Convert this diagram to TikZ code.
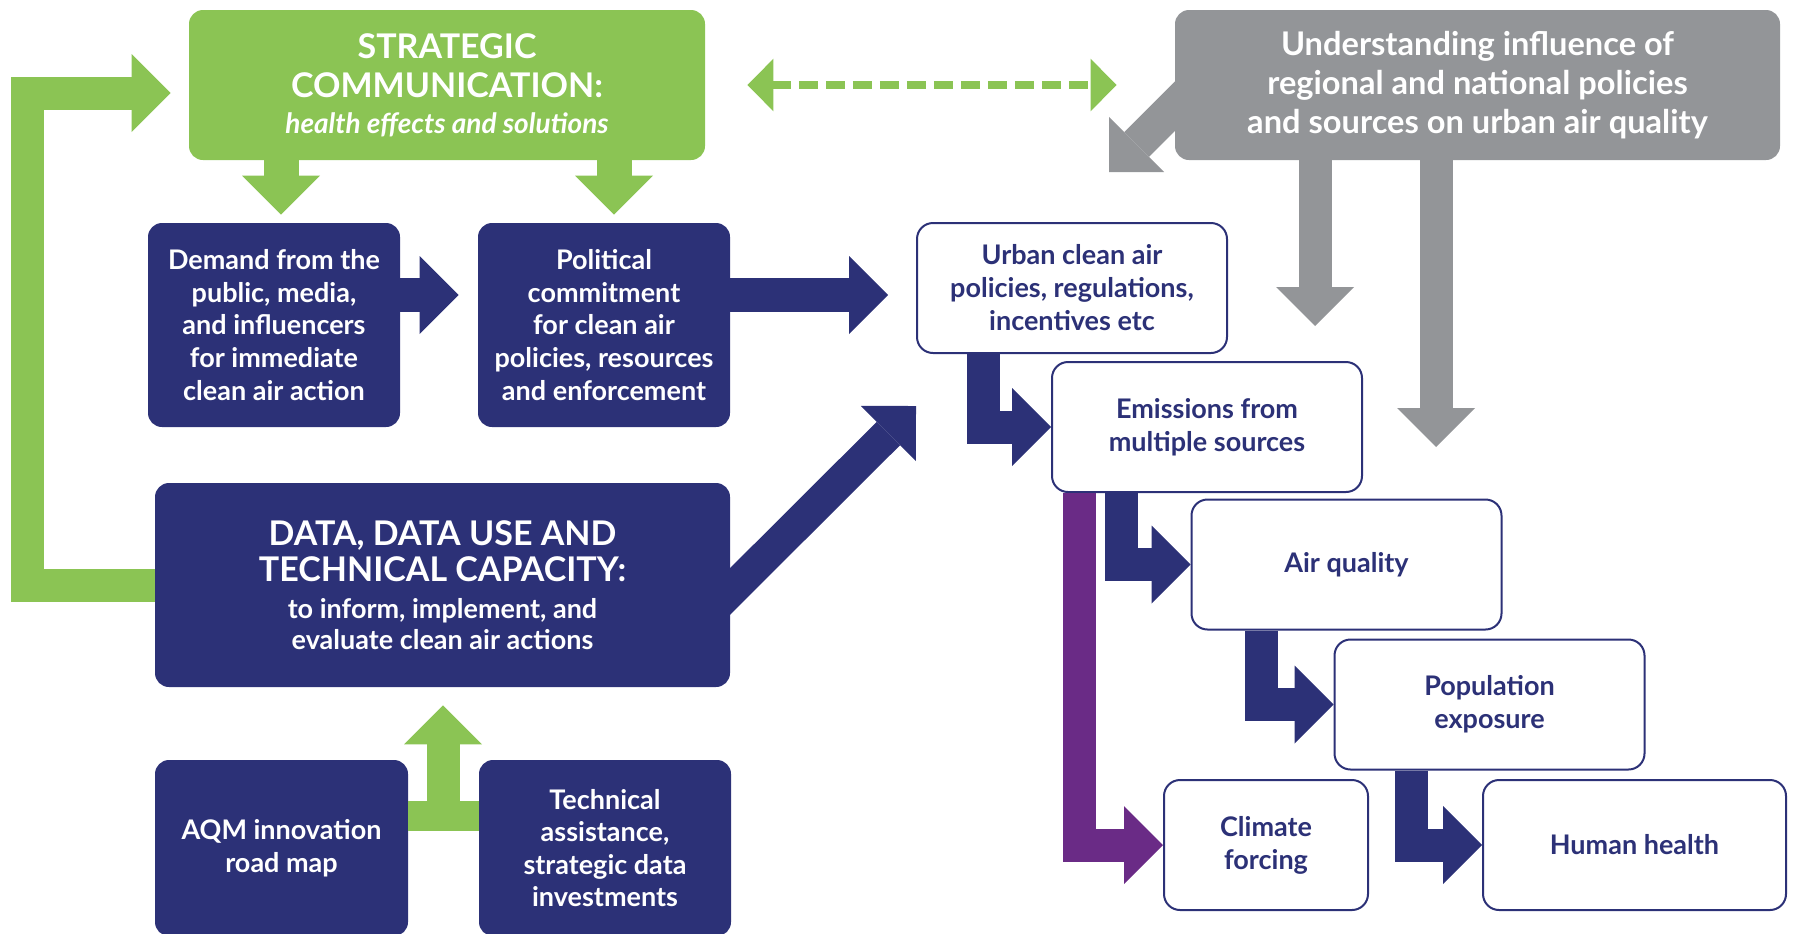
\documentclass[tikz,border=0pt]{standalone}
\usepackage{fontspec}
\setmainfont{Lato}
\usetikzlibrary{arrows.meta, calc, positioning}
\definecolor{Leaf}{RGB}{139,196,84}
\definecolor{Navy}{RGB}{44,49,119}
\definecolor{Slate}{RGB}{147,149,152}
\definecolor{Plum}{RGB}{106,43,134}

\begin{document}
\begin{tikzpicture}[x=0.5pt, y=-0.5pt,
    every node/.style={align=center, inner sep=0pt},
    darkbox/.style={rounded corners=7pt, fill=Navy, text=white,
      font=\bfseries\fontsize{13.5}{16.3}\selectfont},
    whitebox/.style={rounded corners=8pt, draw=Navy, line width=1pt, fill=white,
      text=Navy, font=\bfseries\fontsize{13.5}{16.5}\selectfont,
      minimum width=155pt, minimum height=65pt},
    fatarrow/.style={line width=16.5pt,
      -{Triangle[length=19.5pt, width=39pt, line width=0pt]}}
  ]
  \useasboundingbox (0,0) rectangle (1793,933);

  \node[rounded corners=7pt, fill=Leaf, text=white, minimum width=258pt, minimum height=75pt,
    font=\bfseries\fontsize{17}{19.5}\selectfont] (strat) at (447,85)
    {STRATEGIC\\COMMUNICATION:\\[-1.5pt]\fontsize{14}{17}\selectfont\itshape health effects and solutions};
  \node[rounded corners=7pt, fill=Slate, text=white, minimum width=302.5pt, minimum height=75pt,
    font=\bfseries\fontsize{16.3}{19.5}\selectfont] (infl) at (1477.5,85)
    {Understanding influence of\\regional and national policies\\and sources on urban air quality};

  \node[darkbox, minimum width=126pt, minimum height=102pt] (demand) at (274,325)
    {Demand from the\\public, media,\\and influencers\\for immediate\\clean air action};
  \node[darkbox, minimum width=126pt, minimum height=102pt] (politic) at (604,325)
    {Political\\commitment\\for clean air\\policies, resources\\and enforcement};
  \node[darkbox, minimum width=287.5pt, minimum height=102pt,
    font=\bfseries\fontsize{17}{18.3}\selectfont] (data) at (442.5,585)
    {DATA, DATA USE AND\\TECHNICAL CAPACITY:\\[0.2pt]\fontsize{13.5}{15.5}\selectfont to inform, implement, and\\[-2.8pt]\fontsize{13.5}{15.5}\selectfont evaluate clean air actions};
  \node[darkbox, minimum width=126.5pt, minimum height=88pt] (aqm) at (281.5,848)
    {AQM innovation\\road map};
  \node[darkbox, minimum width=126pt, minimum height=88pt] (techa) at (605,848)
    {Technical\\assistance,\\strategic data\\investments};

  \node[whitebox] (urban) at (1072,288) {Urban clean air\\policies, regulations,\\incentives etc};
  \node[whitebox] (emis) at (1207,427) {Emissions from\\multiple sources};
  \node[whitebox] (airq) at (1346.5,564.5) {Air quality};
  \node[whitebox] (popexp) at (1489.5,704.5) {Population\\exposure};
  \node[whitebox, minimum width=102pt] (climate) at (1266,845) {Climate\\forcing};
  \node[whitebox, minimum width=151.5pt] (health) at (1634.5,845) {Human health};

  % green feedback and communication arrows
  \coordinate (loop) at (27,93);
  \draw[fatarrow, Leaf, shorten >=9pt] (data.west) -| (loop) -- (strat.west |- loop);
  \draw[fatarrow, Leaf, line width=17.5pt, shorten >=4pt] ($(demand.north |- strat.south)+(7,0)$) -- ($(demand.north)+(7,0)$);
  \draw[fatarrow, Leaf, line width=17.5pt, shorten >=4pt] ($(politic.north |- strat.south)+(10,0)$) -- ($(politic.north)+(10,0)$);
  \coordinate (fork) at (443,816);
  \draw[Leaf, line width=15pt] (aqm.east |- fork) -- (techa.west |- fork);
  \draw[fatarrow, Leaf, shorten >=9pt] (fork) -- (fork |- data.south);
  \draw[Leaf, line width=4pt, dash pattern=on 9.5pt off 4pt,
    {Triangle[length=13pt, width=25.5pt]}-{Triangle[length=13pt, width=25.5pt]},
    shorten <=21pt, shorten >=29pt] (strat.east) -- (infl.west);

  % policy chain
  \coordinate (pol) at ($(politic.east)+(0,-30)$);
  \draw[fatarrow, Navy, line width=17pt, shorten >=9.5pt] ($(demand.east)+(0,-30)$) -- ($(politic.west)+(0,-30)$);
  \draw[fatarrow, Navy, line width=17pt, shorten >=14pt] (pol) -- (pol -| urban.west);
  \coordinate (diagtip) at (916,406);
  \draw[fatarrow, Navy] ($(data.east)+(-20,26)$) -- (diagtip);

  \draw[fatarrow, Navy] ($(urban.south west)+(67,0)$) |- (emis.west);
  \draw[fatarrow, Navy] ($(emis.south west)+(70,0)$) |- (airq.west);
  \draw[fatarrow, Navy] ($(airq.south west)+(71,0)$) |- (popexp.west);
  \draw[fatarrow, Navy] ($(popexp.south west)+(78,0)$) |- (health.west);
  \draw[fatarrow, Plum] ($(emis.south west)+(28,0)$) |- (climate.west);

  % regional influence
  \coordinate (greytipa) at (1315,326);
  \coordinate (greytipb) at (1436,447);
  \coordinate (greytipc) at (1109,172);
  \draw[fatarrow, Slate] (infl.south -| greytipa) -- (greytipa);
  \draw[fatarrow, Slate] (infl.south -| greytipb) -- (greytipb);
  \draw[fatarrow, Slate, line width=17.5pt] ($(infl.south west)+(25,-79)$) -- (greytipc);
\end{tikzpicture}
\end{document}
